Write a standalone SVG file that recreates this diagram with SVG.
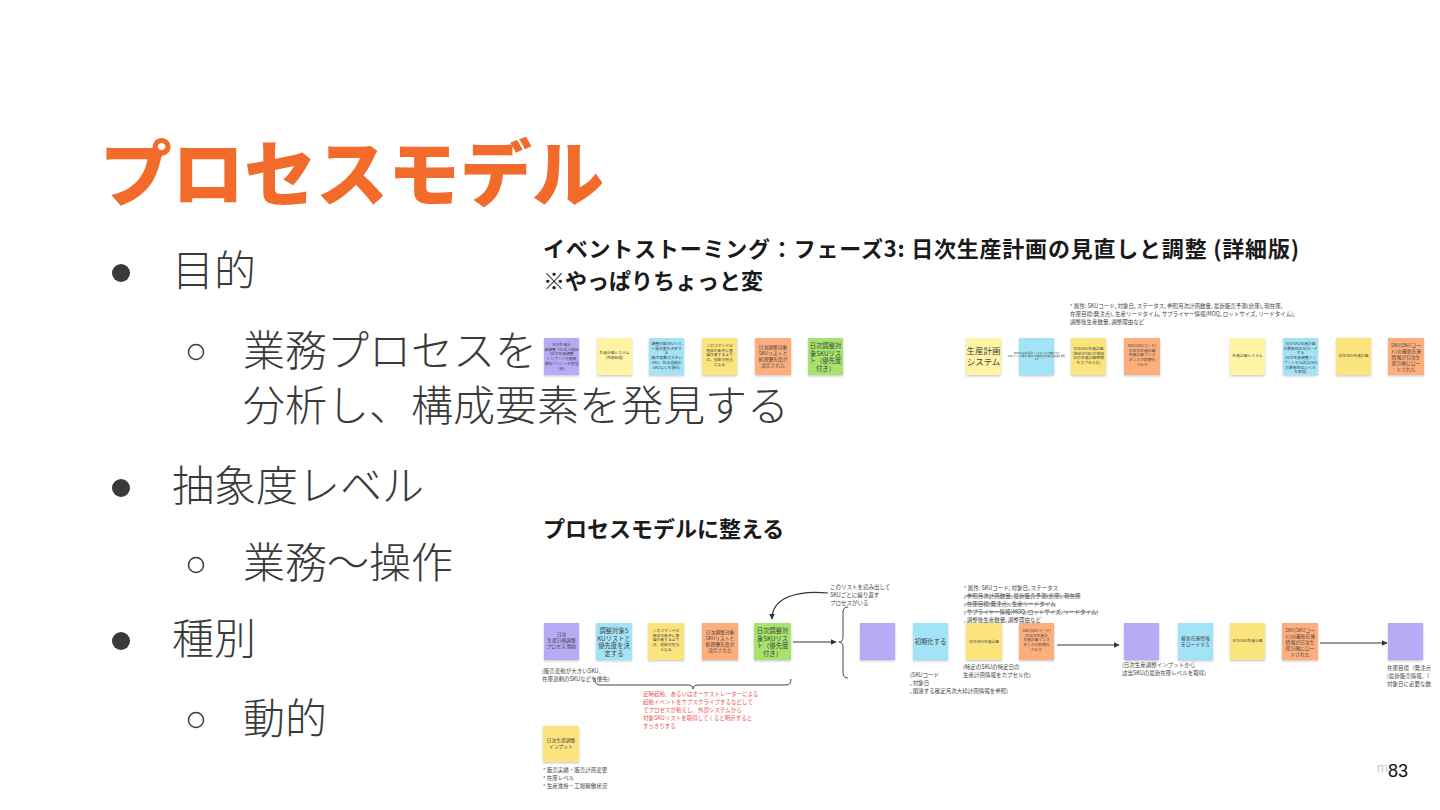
<svg xmlns="http://www.w3.org/2000/svg" width="1440" height="810" viewBox="0 0 1440 810">
<defs>
<style>
.title{font-family:"Noto Sans CJK JP","Noto Sans",sans-serif;font-weight:900;font-size:72px;fill:#F26B2A}
.b{font-family:"Noto Sans CJK JP","Noto Sans",sans-serif;font-weight:300;font-size:42px;fill:#3a3a3a}
.h{font-family:"Noto Sans CJK JP","Noto Sans",sans-serif;font-weight:700;font-size:22px;fill:#1a1a1a}
.n{font-family:"Noto Sans CJK JP","Noto Sans",sans-serif;text-anchor:middle;fill:#444}
.s4{font-size:3.8px}.s5{font-size:4.8px}.s6{font-size:6.3px}.s9{font-size:8.5px}
.a{font-family:"Noto Sans CJK JP","Noto Sans",sans-serif;font-size:5.5px;fill:#444}
.r{font-family:"Noto Sans CJK JP","Noto Sans",sans-serif;font-size:5.5px;fill:#E8534E}
.pu{fill:#B8AAF5}.ly{fill:#FFF4A3}.bl{fill:#A3E3F7}.ye{fill:#FCE47C}.or{fill:#FCAE7C}.gr{fill:#A6E36C}
.note{filter:url(#sh)}
.ln{fill:none;stroke:#444;stroke-width:1}
.ar{fill:none;stroke:#333;stroke-width:1.2;marker-end:url(#ah)}
</style>
<filter id="sh" x="-20%" y="-20%" width="140%" height="150%">
<feDropShadow dx="0" dy="1.2" stdDeviation="0.8" flood-color="#000" flood-opacity="0.22"/>
</filter>
<marker id="ah" viewBox="0 0 10 10" refX="9" refY="5" markerWidth="5" markerHeight="5" orient="auto">
<path d="M0,0 L10,5 L0,10 Z" fill="#333"/>
</marker>
</defs>
<rect width="1440" height="810" fill="#fff"/>

<text class="title" x="100" y="200">プロセスモデル</text>

<g id="bullets">
<circle cx="121" cy="273" r="9" fill="#3a3a3a"/>
<text class="b" x="172" y="286">目的</text>
<circle cx="196" cy="352" r="7.5" fill="none" stroke="#3a3a3a" stroke-width="1.5"/>
<text class="b" x="243" y="366">業務プロセスを</text>
<text class="b" x="243" y="421">分析し、構成要素を発見する</text>
<circle cx="121" cy="488" r="9" fill="#3a3a3a"/>
<text class="b" x="172" y="501">抽象度レベル</text>
<circle cx="196" cy="565" r="7.5" fill="none" stroke="#3a3a3a" stroke-width="1.5"/>
<text class="b" x="243" y="578">業務〜操作</text>
<circle cx="121" cy="641" r="9" fill="#3a3a3a"/>
<text class="b" x="172" y="654">種別</text>
<circle cx="196" cy="720" r="7.5" fill="none" stroke="#3a3a3a" stroke-width="1.5"/>
<text class="b" x="243" y="734">動的</text>
</g>

<text class="h" x="543" y="257" textLength="756" lengthAdjust="spacing">イベントストーミング：フェーズ3: 日次生産計画の見直しと調整 (詳細版)</text>
<text class="h" x="543" y="289">※やっぱりちょっと変</text>
<text class="h" x="543" y="537">プロセスモデルに整える</text>

<g id="top-annotation">
<text class="a" x="1070" y="308">* 属性: SKUコード, 対象日, ステータス, 参照月次計画数量, 最新販売予測(倉庫), 現在庫,</text>
<text class="a" x="1070" y="316">在庫目標(発注点), 生産リードタイム, サプライヤー情報(MOQ, ロットサイズ, リードタイム),</text>
<text class="a" x="1070" y="324">調整後生産数量, 調整理由など</text>
</g>

<g id="t1"><rect class="note pu" x="544" y="338" width="35" height="37"/>
<text class="n s4" x="561.5" y="346"><tspan x="561.5">日次生産計</tspan><tspan x="561.5" dy="4.7">画調整プロセス開始</tspan><tspan x="561.5" dy="4.7">(日次生産調整</tspan><tspan x="561.5" dy="4.7">インプットの更新</tspan><tspan x="561.5" dy="4.7">通知イベントを受信</tspan><tspan x="561.5" dy="4.7">(仮)</tspan></text></g>
<g id="t2"><rect class="note ly" x="597" y="338" width="35" height="37"/>
<text class="n s4" x="614.5" y="354"><tspan x="614.5">生産計画システム</tspan><tspan x="614.5" dy="4.7">(外部処理)</tspan></text></g>
<g id="t3"><rect class="note bl" x="649" y="338" width="35" height="37"/>
<text class="n s4" x="666.5" y="345"><tspan x="666.5">調整対象SKUリス</tspan><tspan x="666.5" dy="4.7">ト優先度を決定す</tspan><tspan x="666.5" dy="4.7">る</tspan><tspan x="666.5" dy="4.7">(販売変動の大きい</tspan><tspan x="666.5" dy="4.7">SKU、在庫過剰の</tspan><tspan x="666.5" dy="4.7">SKUなどを優先)</tspan></text></g>
<g id="t4"><rect class="note ye" x="702" y="338" width="35" height="37"/>
<text class="n s4" x="719.5" y="347"><tspan x="719.5">このコマンドは</tspan><tspan x="719.5" dy="4.7">特定の条件に基</tspan><tspan x="719.5" dy="4.7">操作者するより</tspan><tspan x="719.5" dy="4.7">は、役割の担当</tspan><tspan x="719.5" dy="4.7">となる</tspan></text></g>
<g id="t5"><rect class="note or" x="755" y="338" width="36" height="37"/>
<text class="n s5" x="773" y="349"><tspan x="773">日次調整対象</tspan><tspan x="773" dy="6">SKUリストと</tspan><tspan x="773" dy="6">処理優先度が</tspan><tspan x="773" dy="6">決定された</tspan></text></g>
<g id="t6"><rect class="note gr" x="808" y="338" width="35" height="37"/>
<text class="n s6" x="825.5" y="348"><tspan x="825.5">日次調整対</tspan><tspan x="825.5" dy="7.5">象SKUリス</tspan><tspan x="825.5" dy="7.5">ト（優先度</tspan><tspan x="825.5" dy="7.5">付き）</tspan></text></g>

<g id="t7"><rect class="note ly" x="966" y="338" width="35" height="37"/>
<text class="n s9" x="983.5" y="354"><tspan x="983.5">生産計画</tspan><tspan x="983.5" dy="11">システム</tspan></text></g>
<g id="t8"><rect class="note bl" x="1019" y="338" width="35" height="37"/>
<text class="n" style="font-size:2.2px" x="1036.5" y="354"><tspan x="1036.5">日次SKU生産計画のインスタンスを初期化する</tspan><tspan x="1036.5" dy="3">(SKUコード, 対象日, 関連する確定月次大枠計画情報を参照)</tspan><tspan x="1036.5" dy="3">する</tspan></text></g>
<g id="t9"><rect class="note ye" x="1071" y="338" width="35" height="37"/>
<text class="n s4" x="1088.5" y="350"><tspan x="1088.5">日次SKU生産計画</tspan><tspan x="1088.5" dy="4.7">(特定のSKUの特定</tspan><tspan x="1088.5" dy="4.7">日の生産計画情報</tspan><tspan x="1088.5" dy="4.7">をカプセル化)</tspan></text></g>
<g id="t10"><rect class="note or" x="1124" y="338" width="36" height="37"/>
<text class="n s4" x="1142" y="347"><tspan x="1142">SKU(SKUコード)</tspan><tspan x="1142" dy="4.7">の日次生産計画</tspan><tspan x="1142" dy="4.7">生産計画インス</tspan><tspan x="1142" dy="4.7">タンスが初期化</tspan><tspan x="1142" dy="4.7">された</tspan></text></g>
<g id="t11"><rect class="note ly" x="1230" y="338" width="35" height="37"/>
<text class="n s4" x="1247.5" y="357">生産計画システム</text></g>
<g id="t12"><rect class="note bl" x="1283" y="338" width="35" height="37"/>
<text class="n s4" x="1300.5" y="345"><tspan x="1300.5">日次SKU生産計画</tspan><tspan x="1300.5" dy="4.7">の最新在庫をロード</tspan><tspan x="1300.5" dy="4.7">する</tspan><tspan x="1300.5" dy="4.7">(日次生産調整イン</tspan><tspan x="1300.5" dy="4.7">プットから該当SKU</tspan><tspan x="1300.5" dy="4.7">の最新在庫レベル</tspan><tspan x="1300.5" dy="4.7">を取得)</tspan></text></g>
<g id="t13"><rect class="note ye" x="1336" y="338" width="35" height="37"/>
<text class="n s4" x="1353.5" y="357">日次SKU生産計画</text></g>
<g id="t14"><rect class="note or" x="1388" y="338" width="36" height="37"/>
<text class="n s5" x="1406" y="347"><tspan x="1406">SKU(SKUコー</tspan><tspan x="1406" dy="6">ド)の最新在庫</tspan><tspan x="1406" dy="6">情報が日次生</tspan><tspan x="1406" dy="6">産計画にロー</tspan><tspan x="1406" dy="6">ドされた</tspan></text></g>

<g id="connectors">
<path class="ar" d="M828,593 C796,590 772,598 772,619"/>
<path class="ar" d="M793,642 L836,642"/>
<path class="ar" d="M1057,645 L1119,645"/>
<path class="ar" d="M1320,643 L1387,643"/>
<path class="ln" d="M848,607 Q843,607 843,612 L843,637 Q843,642 839,642 Q843,642 843,647 L843,673 Q843,678 848,678"/>
<path class="ln" d="M595,679 Q595,685 600,685 L688,685 Q693,685 693,689 Q693,685 698,685 L786,685 Q791,685 791,679"/>
</g>

<g id="b1"><rect class="note pu" x="544" y="623" width="35" height="37"/>
<text class="n s5" x="561.5" y="636"><tspan x="561.5">日次</tspan><tspan x="561.5" dy="6">生産計画調整</tspan><tspan x="561.5" dy="6">プロセス 開始</tspan></text></g>
<g id="b2"><rect class="note bl" x="596" y="623" width="36" height="37"/>
<text class="n s6" x="614" y="633"><tspan x="614">調整対象S</tspan><tspan x="614" dy="7.5">KUリストと</tspan><tspan x="614" dy="7.5">優先度を決</tspan><tspan x="614" dy="7.5">定する</tspan></text></g>
<g id="b3"><rect class="note ye" x="648" y="623" width="36" height="37"/>
<text class="n s4" x="666" y="632"><tspan x="666">このコマンドは</tspan><tspan x="666" dy="4.7">特定の条件に基</tspan><tspan x="666" dy="4.7">操作者するより</tspan><tspan x="666" dy="4.7">は、役割の担当</tspan><tspan x="666" dy="4.7">となる</tspan></text></g>
<g id="b4"><rect class="note or" x="702" y="623" width="36" height="37"/>
<text class="n s5" x="720" y="634"><tspan x="720">日次調整対象</tspan><tspan x="720" dy="6">SKUリストと</tspan><tspan x="720" dy="6">処理優先度が</tspan><tspan x="720" dy="6">決定された</tspan></text></g>
<g id="b5"><rect class="note gr" x="754" y="623" width="37" height="37"/>
<text class="n s6" x="772.5" y="633"><tspan x="772.5">日次調整対</tspan><tspan x="772.5" dy="7.5">象SKUリス</tspan><tspan x="772.5" dy="7.5">ト（優先度</tspan><tspan x="772.5" dy="7.5">付き）</tspan></text></g>
<g id="b6"><rect class="note pu" x="860" y="623" width="35" height="37"/></g>
<g id="b7"><rect class="note bl" x="913" y="623" width="35" height="37"/>
<text class="n s6" x="930.5" y="644">初期化する</text></g>
<g id="b8"><rect class="note ye" x="966" y="623" width="36" height="37"/>
<text class="n s4" x="984" y="643">日次SKU生産計画</text></g>
<g id="b9"><rect class="note or" x="1019" y="623" width="35" height="37"/>
<text class="n s4" x="1036.5" y="632"><tspan x="1036.5">SKU(SKUコード)</tspan><tspan x="1036.5" dy="4.7">の日次生産計</tspan><tspan x="1036.5" dy="4.7">生産計画インス</tspan><tspan x="1036.5" dy="4.7">タンスが初期化</tspan><tspan x="1036.5" dy="4.7">された</tspan></text></g>
<g id="b10"><rect class="note pu" x="1124" y="623" width="35" height="37"/></g>
<g id="b11"><rect class="note bl" x="1178" y="623" width="35" height="37"/>
<text class="n s5" x="1195.5" y="640"><tspan x="1195.5">最新在庫情報</tspan><tspan x="1195.5" dy="6">をロードする</tspan></text></g>
<g id="b12"><rect class="note ye" x="1230" y="623" width="35" height="37"/>
<text class="n s4" x="1247.5" y="642">日次SKU生産計画</text></g>
<g id="b13"><rect class="note or" x="1282" y="623" width="36" height="37"/>
<text class="n s5" x="1300" y="632"><tspan x="1300">SKU(SKUコー</tspan><tspan x="1300" dy="6">ド)の最新在庫</tspan><tspan x="1300" dy="6">情報が日次生</tspan><tspan x="1300" dy="6">産計画にロー</tspan><tspan x="1300" dy="6">ドされた</tspan></text></g>
<g id="b14"><rect class="note pu" x="1388" y="623" width="35" height="37"/></g>
<g id="b15"><rect class="note ye" x="543" y="726" width="36" height="36"/>
<text class="n s5" x="561" y="742"><tspan x="561">日次生産調整</tspan><tspan x="561" dy="6">インプット</tspan></text></g>

<g id="annotations">
<text class="a" x="830" y="589">このリストを読み出して</text>
<text class="a" x="830" y="597">SKUごとに繰り返す</text>
<text class="a" x="830" y="605">プロセスがいる</text>
<text class="a" x="964" y="590">* 属性: SKUコード, 対象日, ステータス</text>
<text class="a" x="964" y="598" text-decoration="line-through">, 参照月次計画数量, 最新販売予測(倉庫), 現在庫</text>
<text class="a" x="964" y="606" text-decoration="line-through">, 在庫目標(発注点), 生産リードタイム</text>
<text class="a" x="964" y="614" text-decoration="line-through">, サプライヤー情報(MOQ, ロットサイズ, リードタイム)</text>
<text class="a" x="964" y="622">, 調整後生産数量, 調整理由など</text>
<text class="a" x="542" y="673">(販売変動が大きいSKU、</text>
<text class="a" x="542" y="681">在庫過剰のSKUなどを優先)</text>
<text class="r" x="643" y="696">定時起動、あるいはオーケストレーターによる</text>
<text class="r" x="643" y="704">起動イベントをサブスクライブするなどして</text>
<text class="r" x="643" y="712">でプロセスが動えし、外部システムから</text>
<text class="r" x="643" y="720">対象SKUリストを取得してくると明示すると</text>
<text class="r" x="643" y="728">すっきりする</text>
<text class="a" x="910" y="677">(SKUコード</text>
<text class="a" x="910" y="685">, 対象日</text>
<text class="a" x="910" y="693">, 関連する確定月次大枠計画情報を参照)</text>
<text class="a" x="963" y="669">(特定のSKUの特定日の</text>
<text class="a" x="963" y="677">生産計画情報をカプセル化)</text>
<text class="a" x="1122" y="667">(日次生産調整インプットから</text>
<text class="a" x="1122" y="675">該当SKUの最新在庫レベルを取得)</text>
<text class="a" x="1387" y="670">在庫目標（発注点</text>
<text class="a" x="1387" y="678">(最新販売情報、I</text>
<text class="a" x="1387" y="686">対象日に必要な数</text>
<text class="a" x="543" y="772">* 販売実績・販売計画変更</text>
<text class="a" x="543" y="780">* 在庫レベル</text>
<text class="a" x="543" y="788">* 生産進捗・工場稼働状況</text>
</g>

<text x="1377" y="772" style="font-family:'Liberation Sans',sans-serif;font-size:13px;fill:#c8c8d0">m</text>
<text x="1388" y="777" style="font-family:'Liberation Sans',sans-serif;font-size:18px;fill:#111">83</text>
</svg>
